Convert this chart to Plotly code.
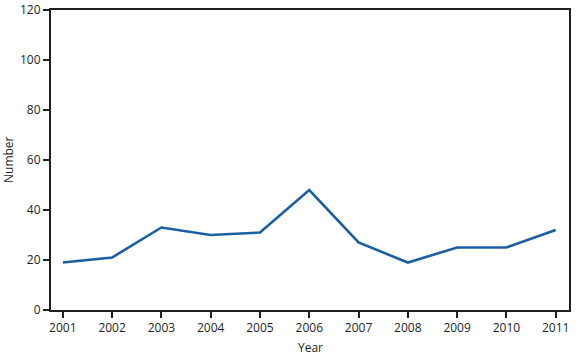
import plotly.graph_objects as go

years = [2001, 2002, 2003, 2004, 2005, 2006, 2007, 2008, 2009, 2010, 2011]
counts = [19, 21, 33, 30, 31, 48, 27, 19, 25, 25, 32]
y_ticks = [0, 20, 40, 60, 80, 100, 120]

fig = go.Figure()
fig.add_trace(go.Scatter(
    x=years, y=counts, mode="lines",
    line=dict(color="#1a5fa3", width=2.6),
    showlegend=False,
))

font = dict(family="Open Sans", size=12, color="#231f20")
fig.update_layout(
    width=587, height=356,
    margin=dict(l=51, r=18, t=10, b=46),
    paper_bgcolor="white", plot_bgcolor="white",
    font=font,
    xaxis=dict(
        range=[2000.76, 2011.27], tickvals=years, ticktext=[str(y) for y in years],
        showgrid=False, zeroline=False, automargin=False,
        showline=True, linecolor="#231f20", linewidth=2, mirror=True,
        ticks="outside", ticklen=6, tickwidth=1.5, tickcolor="#231f20",
    ),
    yaxis=dict(
        range=[0, 120], tickvals=y_ticks,
        showgrid=False, zeroline=False, automargin=False,
        showline=True, linecolor="#231f20", linewidth=2, mirror=True,
        ticks="outside", ticklen=6, tickwidth=1.5, tickcolor="#231f20",
        ticklabelstandoff=0,
    ),
    annotations=[
        dict(text="Year", x=0.5, y=0, xref="paper", yref="paper",
             yshift=-37, xanchor="center", yanchor="middle", showarrow=False, font=font),
        dict(text="Number", x=0, y=0.5, xref="paper", yref="paper",
             xshift=-43, xanchor="center", yanchor="middle", textangle=-90,
             showarrow=False, font=font),
    ],
)

fig.write_html("out.html", config={"displayModeBar": False},
               post_script="document.body.style.margin='0';")
